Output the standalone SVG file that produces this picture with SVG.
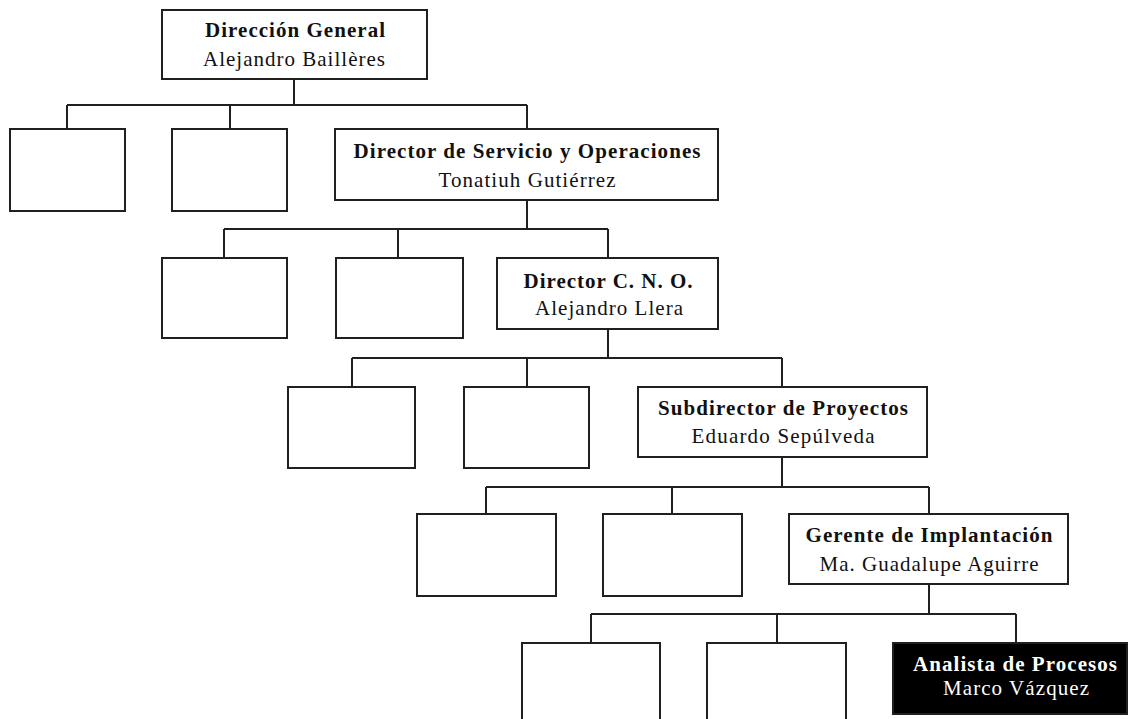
<svg xmlns="http://www.w3.org/2000/svg" width="1129" height="719" viewBox="0 0 1129 719">
  <style>
    .box { fill: #ffffff; stroke: #202020; stroke-width: 2; }
    .dark { fill: #000000; stroke: #202020; stroke-width: 2; }
    .wire { fill: none; stroke: #202020; stroke-width: 2; }
    text { font-family: "Liberation Serif", "Times New Roman", serif; font-size: 21px; text-anchor: middle; fill: #111111; }
    .title { font-weight: bold; }
    .inv { fill: #ffffff; }
  </style>
  <rect width="1129" height="719" fill="#ffffff"/>

  <!-- connectors between levels -->
  <g id="connectors">
    <path class="wire" d="M294,79 V105 M67,105 H527 M67,105 V129 M230,105 V129 M527,105 V129"/>
    <path class="wire" d="M527,200 V229 M224,229 H608 M224,229 V258 M398,229 V258 M608,229 V258"/>
    <path class="wire" d="M608,329 V358 M352,358 H782 M352,358 V387 M527,358 V387 M782,358 V387"/>
    <path class="wire" d="M782,457 V487 M486,487 H929 M486,487 V514 M672,487 V514 M929,487 V514"/>
    <path class="wire" d="M929,584 V614 M591,614 H1016 M591,614 V643 M777,614 V643 M1016,614 V643"/>
  </g>

  <!-- level 0 -->
  <g id="direccion-general">
    <rect class="box" x="162" y="10" width="265" height="69"/>
    <text class="title" x="295" y="37" textLength="180">Dirección General</text>
    <text x="294" y="66" textLength="182">Alejandro Baillères</text>
  </g>

  <!-- level 1 -->
  <g id="l1-a"><rect class="box" x="10" y="129" width="115" height="82"/></g>
  <g id="l1-b"><rect class="box" x="172" y="129" width="115" height="82"/></g>
  <g id="director-servicio">
    <rect class="box" x="335" y="129" width="383" height="71"/>
    <text class="title" x="527" y="158" textLength="347">Director de Servicio y Operaciones</text>
    <text x="527" y="187" textLength="177">Tonatiuh Gutiérrez</text>
  </g>

  <!-- level 2 -->
  <g id="l2-a"><rect class="box" x="162" y="258" width="125" height="80"/></g>
  <g id="l2-b"><rect class="box" x="336" y="258" width="127" height="80"/></g>
  <g id="director-cno">
    <rect class="box" x="497" y="258" width="221" height="71"/>
    <text class="title" x="608" y="288" textLength="169">Director C. N. O.</text>
    <text x="609" y="315" textLength="148">Alejandro Llera</text>
  </g>

  <!-- level 3 -->
  <g id="l3-a"><rect class="box" x="288" y="387" width="127" height="81"/></g>
  <g id="l3-b"><rect class="box" x="464" y="387" width="125" height="81"/></g>
  <g id="subdirector-proyectos">
    <rect class="box" x="638" y="387" width="289" height="70"/>
    <text class="title" x="783" y="415" textLength="250">Subdirector de Proyectos</text>
    <text x="783" y="443" textLength="183">Eduardo Sepúlveda</text>
  </g>

  <!-- level 4 -->
  <g id="l4-a"><rect class="box" x="417" y="514" width="139" height="82"/></g>
  <g id="l4-b"><rect class="box" x="603" y="514" width="139" height="82"/></g>
  <g id="gerente-implantacion">
    <rect class="box" x="789" y="514" width="279" height="70"/>
    <text class="title" x="929" y="542" textLength="247">Gerente de Implantación</text>
    <text x="929" y="571" textLength="219">Ma. Guadalupe Aguirre</text>
  </g>

  <!-- level 5 -->
  <g id="l5-a"><rect class="box" x="522" y="643" width="138" height="90"/></g>
  <g id="l5-b"><rect class="box" x="707" y="643" width="139" height="90"/></g>
  <g id="analista-procesos">
    <rect class="dark" x="893" y="643" width="234" height="71"/>
    <text class="title inv" x="1015" y="671" textLength="204">Analista de Procesos</text>
    <text class="inv" x="1016" y="695" textLength="146">Marco Vázquez</text>
  </g>
</svg>
